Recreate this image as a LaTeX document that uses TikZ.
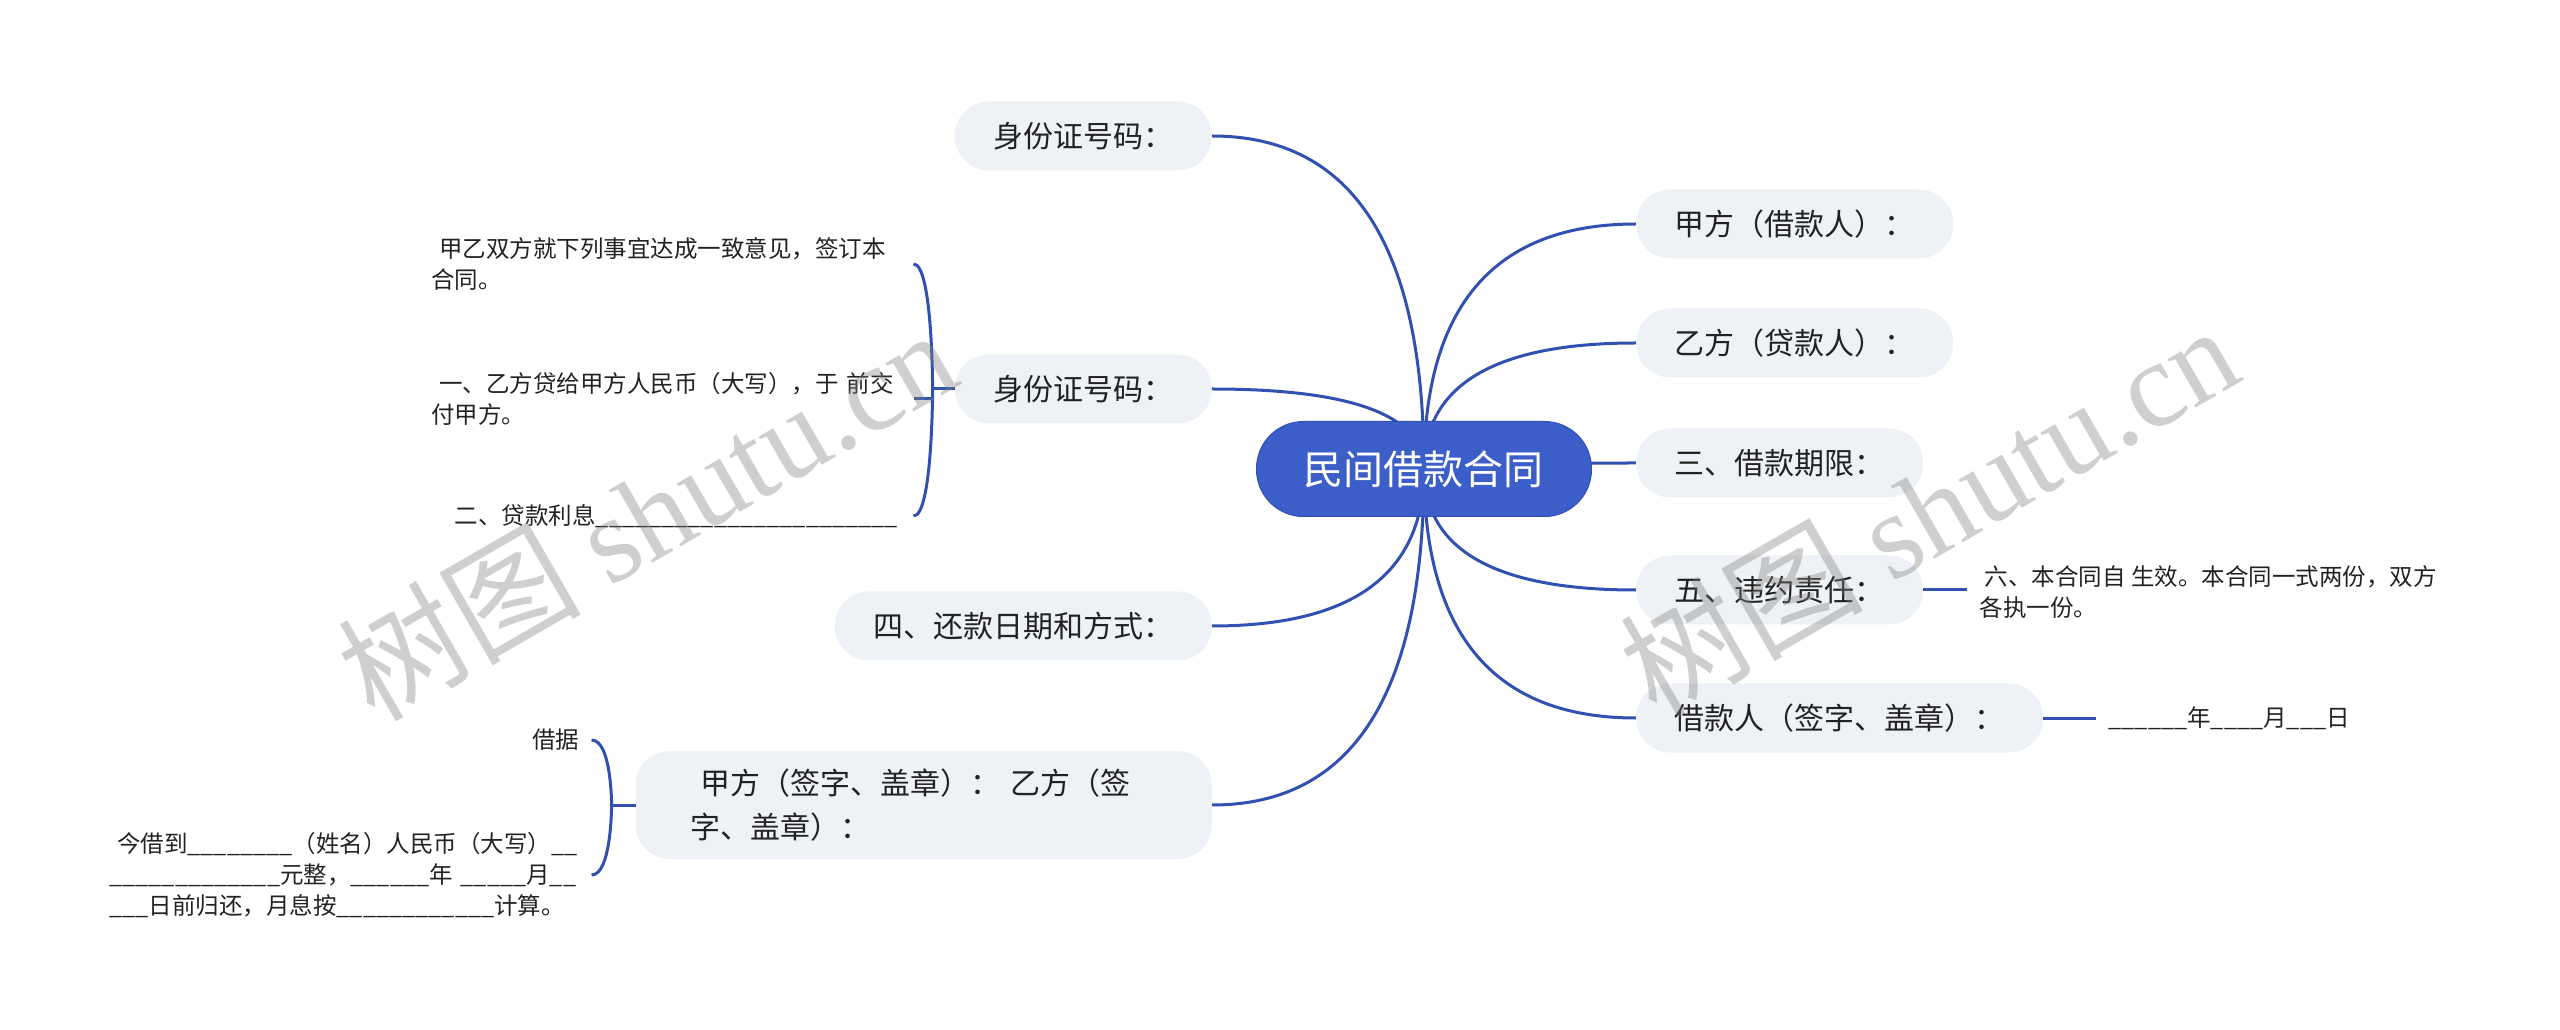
\documentclass[tikz,border=0pt]{standalone}
\usepackage{fontspec}
\setmainfont{Noto Sans CJK SC}
\newfontfamily\markfont{Liberation Serif}
\usetikzlibrary{positioning,calc}

\definecolor{rootblue}{RGB}{60,94,201}
\definecolor{rootedge}{RGB}{50,78,175}
\definecolor{linkblue}{RGB}{48,80,178}
\definecolor{topicgray}{RGB}{238,241,245}
\definecolor{ink}{RGB}{34,34,34}

\pgfdeclarelayer{background}
\pgfsetlayers{background,main}

% a row of blanks to fill in
\newcommand{\blanks}[1]{\foreach \k in {1,...,#1}{\_}}
% curved branch from the centre of the root to a topic
\newcommand{\limb}[2]{%
  \draw[branch] (#1.center) .. controls ($(#1.center)!0.667!(#1.center |- #2)$)
    and ($(#2)!0.667!(#1.center |- #2)$) .. (#2);}

\tikzset{
  root/.style={fill=rootblue, draw=rootedge, line width=1pt, text=white,
    rounded corners=47pt, minimum width=335pt, minimum height=95pt,
    font=\fontsize{40pt}{48pt}\selectfont},
  topic/.style={fill=topicgray, rounded corners=34pt, minimum height=69pt,
    inner xsep=38.5pt, text=ink, font=\fontsize{30pt}{44pt}\selectfont},
  leaf/.style={inner xsep=12pt, inner ysep=2pt, text=ink, align=left,
    font=\fontsize{23.5pt}{31pt}\selectfont},
  branch/.style={draw=linkblue, line width=3pt},
  watermark/.style={text=gray, opacity=0.38, rotate=30,
    font=\fontsize{122pt}{126pt}\selectfont},
}

\begin{document}
\begin{tikzpicture}
	\useasboundingbox (-1424pt,-561pt) rectangle (1136pt,469pt);
	% Nodes
	% Central topic
	\node[root] (root) at (0,0) {民间借款合同};
	% Left topics
	\node[topic, left=44pt of root, yshift=333pt] (id-top) {身份证号码：};
	\node[topic, left=44pt of root, yshift=80pt] (id-mid) {身份证号码：};
	\node[topic, left=44pt of root, yshift=-157pt] (repay) {四、还款日期和方式：};
	\node[topic, left=44pt of root, yshift=-336pt, minimum height=108pt,
		inner xsep=55pt, text width=466pt, align=left] (sign) {\ 甲方（签字、盖章）：\ 乙方（签\\字、盖章）：};
	% Right topics
	\node[topic, right=44pt of root, yshift=245pt] (party-a) {甲方（借款人）：};
	\node[topic, right=44pt of root, yshift=126pt] (party-b) {乙方（贷款人）：};
	\node[topic, right=44pt of root, yshift=6pt] (loan-term) {三、借款期限：};
	\node[topic, right=44pt of root, yshift=-121pt] (breach) {五、违约责任：};
	\node[topic, right=44pt of root, yshift=-249pt] (borrower-sign) {借款人（签字、盖章）：};

	% Leaves
	% Under the second ID topic
	\node[leaf, text width=470pt, left=41pt of id-mid, yshift=125pt] (agree) {\ 甲乙双方就下列事宜达成一致意见，签订本\\合同。};
	\node[leaf, text width=470pt, left=41pt of id-mid, yshift=-10pt] (lend) {\ 一、乙方贷给甲方人民币（大写），于 前交\\付甲方。};
	\node[leaf, text width=470pt, left=41pt of id-mid, yshift=-127pt] (interest) {　二、贷款利息\blanks{23}};
	% Under the signing topic
	\node[leaf, left=44pt of sign, yshift=65pt] (iou-title) {借据};
	\node[leaf, text width=470pt, left=44pt of sign, yshift=-70pt] (iou-body) {\ 今借到\blanks{8}（姓名）人民币（大写）\blanks{2}\\\blanks{13}元整，\blanks{6}年\ \blanks{5}月\blanks{2}\\\blanks{3}日前归还，月息按\blanks{12}计算。};
	% Right leaves
	\node[leaf, right=44pt of breach, yshift=-2pt] (effect) {\ 六、本合同自 生效。本合同一式两份，双方\\各执一份。};
	\node[leaf, right=53pt of borrower-sign] (date) {\blanks{6}年\blanks{4}月\blanks{3}日};

	% Edges
	\begin{pgfonlayer}{background}
		% Root to left topics
		\limb{root}{id-top.east}
		\limb{root}{id-mid.east}
		\limb{root}{repay.east}
		\limb{root}{sign.east}
		% Root to right topics
		\limb{root}{party-a.west}
		\limb{root}{party-b.west}
		\limb{root}{loan-term.west}
		\limb{root}{breach.west}
		\limb{root}{borrower-sign.west}
	\end{pgfonlayer}
	% Straight stubs to single leaves
	\draw[branch] (breach.east) -- (breach.east -| effect.west);
	\draw[branch] (borrower-sign.east) -- (date.west);
	% Brace of the second ID topic
	\coordinate[left=22pt of id-mid] (brace-mid);
	\draw[branch] (agree.east) .. controls (brace-mid |- agree.east) and (brace-mid) .. (brace-mid)
		.. controls (brace-mid) and (brace-mid |- interest.east) .. (interest.east);
	\draw[branch] (brace-mid) -- (id-mid.west);
	\draw[branch] (brace-mid |- lend.east) -- (lend.east);
	% Brace of the signing topic
	\coordinate[left=24pt of sign] (brace-sign);
	\draw[branch] (iou-title.east) .. controls (brace-sign |- iou-title.east) and (brace-sign) .. (brace-sign)
		.. controls (brace-sign) and (brace-sign |- iou-body.east) .. (iou-body.east);
	\draw[branch] (brace-sign) -- (sign.west);

	% Watermarks
	\node[watermark] (mark-left) at (-778pt,-44pt) {树图 {\markfont shutu.cn}};
	\node[watermark] (mark-right) at (504pt,-40pt) {树图 {\markfont shutu.cn}};
\end{tikzpicture}
\end{document}
